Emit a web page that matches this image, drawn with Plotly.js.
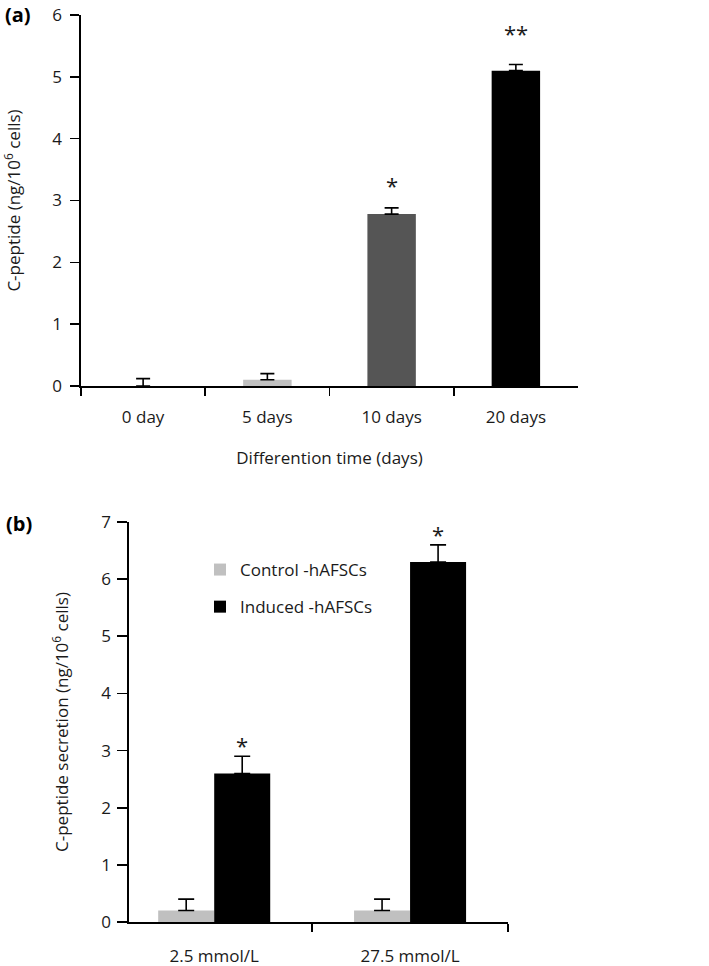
<!DOCTYPE html>
<html>
<head>
<meta charset="utf-8">
<script src="https://cdn.plot.ly/plotly-3.0.1.min.js"></script>
<style>html,body{margin:0;padding:0;background:#fff;}#chart{width:709px;height:966px;}</style>
</head>
<body>
<div id="chart"></div>
<script>
// ---- Panel (a) data ----
var timeCategories = ['0 day', '5 days', '10 days', '20 days'];
var timeValues = [0, 0.1, 2.78, 5.1];
var timeErrors = [0.12, 0.1, 0.1, 0.1];
var timeColors = ['#000000', '#c0c0c0', '#555555', '#000000'];
var timeSignificance = ['', '', '*', '**'];

// ---- Panel (b) data ----
var glucoseCategories = ['2.5 mmol/L', '27.5 mmol/L'];
var controlValues = [0.2, 0.2];
var controlErrors = [0.2, 0.2];
var inducedValues = [2.6, 6.3];
var inducedErrors = [0.3, 0.3];
var inducedSignificance = ['*', '*'];
var seriesNames = ['Control -hAFSCs', 'Induced -hAFSCs'];

var FONT = '"Open Sans", "DejaVu Sans", sans-serif';
var TXT = '#1a1a1a';
var W = 709, H = 966;
function fx(px){ return px / W; }
function fy(px){ return 1 - px / H; }

var zeros4 = timeValues.map(function(){ return 0; });
var zeros2 = controlValues.map(function(){ return 0; });

var traces = [
  {
    type: 'bar', x: timeCategories, y: timeValues, xaxis: 'x', yaxis: 'y',
    width: 0.39, marker: {color: timeColors, line: {width: 0}},
    error_y: {type: 'data', symmetric: false, array: timeErrors, arrayminus: zeros4,
              color: '#000', thickness: 1.6, width: 7},
    showlegend: false, hoverinfo: 'none'
  },
  {
    type: 'bar', name: seriesNames[0], x: glucoseCategories, y: controlValues, xaxis: 'x2', yaxis: 'y2',
    width: 0.286, offset: -0.286, marker: {color: '#c0c0c0', line: {width: 0}},
    error_y: {type: 'data', symmetric: false, array: controlErrors, arrayminus: zeros2,
              color: '#000', thickness: 1.6, width: 8},
    legendgroup: 'c', hoverinfo: 'none'
  },
  {
    type: 'bar', name: seriesNames[1], x: glucoseCategories, y: inducedValues, xaxis: 'x2', yaxis: 'y2',
    width: 0.286, offset: 0, marker: {color: '#000000', line: {width: 0}},
    error_y: {type: 'data', symmetric: false, array: inducedErrors, arrayminus: zeros2,
              color: '#000', thickness: 1.6, width: 8},
    legendgroup: 'i', hoverinfo: 'none'
  }
];

var topStarShift = [0, 0, 6, 14];
var bottomStarShift = [-6, -6];
var annotations = [];
timeSignificance.forEach(function(s, i){
  if (!s) return;
  annotations.push({xref: 'x', yref: 'y', x: i, y: timeValues[i] + timeErrors[i],
    text: s, showarrow: false, yanchor: 'bottom', yshift: topStarShift[i],
    font: {family: FONT, size: 22, color: TXT}});
});
inducedSignificance.forEach(function(s, i){
  if (!s) return;
  annotations.push({xref: 'x2', yref: 'y2', x: i + 0.143, y: inducedValues[i] + inducedErrors[i],
    text: s, showarrow: false, yanchor: 'bottom', yshift: bottomStarShift[i],
    font: {family: FONT, size: 22, color: TXT}});
});
annotations.push({xref: 'paper', yref: 'paper', x: fx(3), y: fy(15), xanchor: 'left', yanchor: 'middle',
  text: '<b>(a)</b>', showarrow: false, font: {family: FONT, size: 20, color: '#000'}});
annotations.push({xref: 'paper', yref: 'paper', x: fx(4), y: fy(523), xanchor: 'left', yanchor: 'middle',
  text: '<b>(b)</b>', showarrow: false, font: {family: FONT, size: 20, color: '#000'}});

function axisBase(){
  return {
    showline: true, linecolor: '#000', linewidth: 1.6,
    ticks: 'outside', tickcolor: '#000', tickwidth: 1.6,
    showgrid: false, zeroline: false,
    tickfont: {family: FONT, size: 17, color: TXT},
    fixedrange: true
  };
}

var xa = Object.assign(axisBase(), {
  domain: [fx(81), fx(578)], anchor: 'y', type: 'category', range: [-0.5, 3.5],
  tickson: 'boundaries', ticklen: 8, ticklabelstandoff: 15,
  title: {text: 'Differention time (days)', font: {family: FONT, size: 17, color: TXT}, standoff: 25}
});
var ya = Object.assign(axisBase(), {
  domain: [fy(386), fy(15)], anchor: 'x', range: [0, 6], dtick: 1, ticklen: 9, ticklabelstandoff: 5,
  title: {text: 'C-peptide (ng/10<sup>6</sup> cells)', font: {family: FONT, size: 17, color: TXT}, standoff: 30}
});
var xa2 = Object.assign(axisBase(), {
  domain: [fx(129), fx(508)], anchor: 'y2', type: 'category', range: [-0.435, 1.5],
  tickson: 'boundaries', ticklen: 8, ticklabelstandoff: 18
});
var ya2 = Object.assign(axisBase(), {
  domain: [fy(922), fy(522)], anchor: 'x2', range: [0, 7], dtick: 1, ticklen: 10, ticklabelstandoff: 3,
  title: {text: 'C-peptide secretion (ng/10<sup>6</sup> cells)', font: {family: FONT, size: 17, color: TXT}, standoff: 28}
});

var layout = {
  width: W, height: H,
  margin: {l: 0, r: 0, t: 0, b: 0},
  paper_bgcolor: '#fff', plot_bgcolor: 'rgba(0,0,0,0)',
  font: {family: FONT, color: TXT},
  barmode: 'group',
  xaxis: xa, yaxis: ya, xaxis2: xa2, yaxis2: ya2,
  showlegend: true,
  legend: {x: fx(200), y: fy(552), xanchor: 'left', yanchor: 'top',
    font: {family: FONT, size: 17, color: TXT}, bgcolor: 'rgba(0,0,0,0)',
    traceorder: 'grouped', tracegroupgap: 12},
  annotations: annotations
};

Plotly.newPlot('chart', traces, layout, {staticPlot: true, displayModeBar: false});
</script>
</body>
</html>
